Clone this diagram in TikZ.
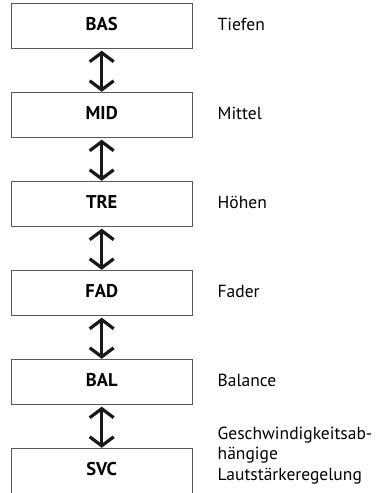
\documentclass[tikz,border=0pt]{standalone}
\usepackage{fontspec}
\setmainfont{PT Sans}
\usetikzlibrary{arrows.meta}
\begin{document}
\begin{tikzpicture}[x=1pt,y=1pt,
  box/.style={draw=black!65, line width=0.9pt, minimum width=181.5pt, minimum height=45pt,
    inner sep=0pt, anchor=north west, text height=12.6pt, text depth=4.5pt,
    font=\fontsize{18.5}{20}\selectfont\bfseries},
  lbl/.style={anchor=base west, inner sep=0pt, font=\fontsize{17.5}{20.5}\selectfont, align=left},
  updown/.style={draw=black!90, line width=3.2pt,
    {Straight Barb[length=9pt,width=24pt]}-{Straight Barb[length=9pt,width=24pt]},
    shorten <=1.5pt, shorten >=0.5pt}]
\useasboundingbox (0,0) rectangle (377,-493);
\node[box] (bas) at (10.5,-3.3) {BAS};
\node[box] (mid) at (10.5,-92.3) {MID};
\node[box] (tre) at (10.5,-181.3) {TRE};
\node[box] (fad) at (10.5,-270.3) {FAD};
\node[box] (bal) at (10.5,-359.3) {BAL};
\node[box] (svc) at (10.5,-448.3) {SVC};
\draw[updown] (bas.south) -- (mid.north);
\draw[updown] (mid.south) -- (tre.north);
\draw[updown] (tre.south) -- (fad.north);
\draw[updown] (fad.south) -- (bal.north);
\draw[updown] (bal.south) -- (svc.north);
\node[lbl] (lbas) at (217.5,-30.5) {Tiefen};
\node[lbl] (lmid) at (217.5,-119.5) {Mittel};
\node[lbl] (ltre) at (217.5,-208.5) {Höhen};
\node[lbl] (lfad) at (217.5,-297.5) {Fader};
\node[lbl] (lbal) at (217.5,-386.5) {Balance};
\node[lbl] (lsvc) at (217.5,-480) {Geschwindigkeitsab-\\hängige\\Lautstärkeregelung};
\end{tikzpicture}
\end{document}
